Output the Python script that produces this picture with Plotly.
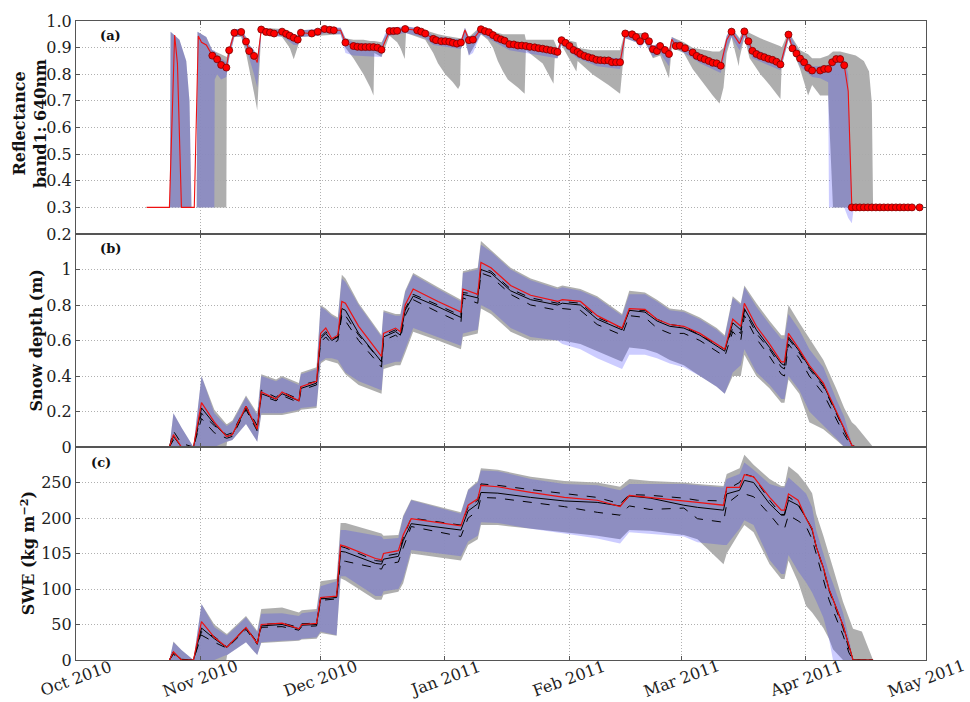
import pandas as pd
import plotly.graph_objects as go
from plotly.subplots import make_subplots

BASE = pd.Timestamp("2010-10-01")

# ---------------- Panel (a): reflectance ----------------
obs_day = [34.0, 35.2, 36.2, 37.5, 38.2, 39.5, 41.2, 42.4, 43.2, 44.4, 46.2, 47.4, 48.4, 49.4,
           51.4, 52.4, 53.3, 54.3, 55.3, 56.1, 58.8, 60.3, 62.0, 63.3, 64.3, 67.2, 69.2, 70.2,
           71.2, 72.2, 73.2, 74.2, 75.2, 76.2, 78.2, 79.2, 80.1, 82.1, 85.1, 86.1, 87.1, 89.1,
           89.8, 91.1, 92.1, 93.1, 94.0, 95.0, 96.0, 98.0, 99.0, 101.0, 102.0, 103.0, 104.0,
           105.0, 106.0, 106.9, 108.1, 109.2, 110.2, 111.2, 112.2, 113.2, 114.4, 115.4, 116.4,
           117.4, 118.4, 119.4, 120.1, 121.1, 122.1, 123.1, 124.1, 125.1, 125.8, 126.8, 127.8,
           128.8, 129.8, 130.8, 131.8, 132.8, 133.7, 134.7, 135.7, 137.0, 138.7, 139.7, 140.7,
           141.9, 142.9, 143.9, 144.9, 145.7, 146.9, 147.9, 149.6, 150.6, 151.9, 153.8, 154.8,
           155.8, 156.8, 157.8, 158.8, 159.8, 160.8, 163.5, 166.7, 167.7, 168.7, 169.7, 170.7,
           171.7, 172.7, 173.7, 174.7, 175.7, 177.7, 178.7, 179.7, 180.6, 181.6, 182.6, 183.6,
           185.6, 186.6, 187.6, 188.6, 189.6, 190.6, 191.6, 193.5, 194.5, 195.5, 196.5, 197.5,
           198.5, 199.5, 200.5, 201.5, 202.5, 203.5, 204.5, 205.5, 206.5, 207.5, 208.5, 210.4]
obs_refl = [0.87, 0.856, 0.835, 0.825, 0.89, 0.956, 0.959, 0.923, 0.887, 0.869, 0.968, 0.959,
            0.957, 0.953, 0.96, 0.952, 0.945, 0.937, 0.93, 0.956, 0.953, 0.96, 0.97, 0.967, 0.965,
            0.919, 0.906, 0.903, 0.902, 0.902, 0.902, 0.902, 0.90, 0.892, 0.962, 0.962, 0.963,
            0.97, 0.965, 0.96, 0.953, 0.933, 0.928, 0.924, 0.924, 0.922, 0.918, 0.915, 0.919,
            0.928, 0.93, 0.969, 0.962, 0.958, 0.947, 0.937, 0.931, 0.926, 0.913, 0.912, 0.908,
            0.908, 0.906, 0.903, 0.901, 0.898, 0.896, 0.893, 0.89, 0.887, 0.884, 0.928, 0.918,
            0.906, 0.891, 0.884, 0.876, 0.869, 0.864, 0.86, 0.854, 0.853, 0.852, 0.852, 0.845,
            0.845, 0.845, 0.953, 0.95, 0.94, 0.924, 0.943, 0.924, 0.894, 0.887, 0.906, 0.891,
            0.876, 0.906, 0.907, 0.898, 0.882, 0.869, 0.862, 0.856, 0.85, 0.843, 0.841, 0.832,
            0.96, 0.961, 0.924, 0.888, 0.876, 0.869, 0.864, 0.858, 0.854, 0.847, 0.837, 0.949,
            0.897, 0.878, 0.859, 0.845, 0.824, 0.814, 0.814, 0.82, 0.82, 0.845, 0.857, 0.857,
            0.834, 0.3, 0.3, 0.3, 0.3, 0.3, 0.3, 0.3, 0.3, 0.3, 0.3, 0.3, 0.3, 0.3, 0.3, 0.3,
            0.3, 0.3]
red_extra_day = [17.6, 23.3, 24.6, 25.3, 26.3, 29.5, 30.5, 31.3, 32.5, 45.2, 66.0, 97.0,
                 148.6, 162.3, 165.5, 192.6]
red_extra_refl = [0.3, 0.3, 0.947, 0.84, 0.3, 0.3, 0.944, 0.92, 0.91, 0.844, 0.965, 0.966,
                  0.931, 0.93, 0.915, 0.736]

a_blue_day = [23.4, 23.6, 25.8, 27.5, 28.3, 28.8, 30.1, 30.3, 32.5, 34.0, 34.5, 34.6, 35.2,
              36.2, 37.5, 38.2, 39.5, 41.2, 42.4, 43.2, 44.4, 45.2, 46.2, 49.4, 51.4, 54.3,
              55.3, 56.1, 60.3, 62.0, 66.0, 67.2, 69.2, 76.2, 77.0, 78.2, 82.1, 85.1, 87.1,
              89.1, 96.0, 97.0, 98.0, 99.0, 101.0, 104.0, 108.1, 120.1, 121.1, 125.1, 130.0,
              135.7, 137.0, 139.7, 140.7, 141.9, 143.9, 145.7, 147.9, 148.6, 150.6, 155.8,
              160.8, 162.3, 163.5, 165.5, 166.7, 168.7, 175.7, 177.7, 180.6, 183.6, 185.6,
              187.6, 187.8, 190.6, 191.6, 192.6, 193.5, 194.0]
a_blue_hi = [0.30, 0.96, 0.93, 0.85, 0.70, 0.30, 0.30, 0.96, 0.94, 0.89, 0.89, 0.885, 0.875,
             0.86, 0.845, 0.90, 0.97, 0.97, 0.94, 0.91, 0.89, 0.86, 0.975, 0.965, 0.97, 0.95,
             0.945, 0.965, 0.97, 0.98, 0.975, 0.935, 0.92, 0.91, 0.95, 0.975, 0.98, 0.975,
             0.965, 0.945, 0.93, 0.975, 0.94, 0.945, 0.98, 0.96, 0.925, 0.895, 0.94, 0.895,
             0.865, 0.86, 0.965, 0.955, 0.935, 0.955, 0.905, 0.92, 0.89, 0.94, 0.92, 0.875,
             0.845, 0.945, 0.975, 0.93, 0.975, 0.90, 0.85, 0.96, 0.875, 0.83, 0.83, 0.835,
             0.84, 0.875, 0.855, 0.80, 0.30, 0.30]
a_blue_lo = [0.30, 0.30, 0.30, 0.30, 0.30, 0.30, 0.30, 0.30, 0.30, 0.30, 0.30, 0.78, 0.80,
             0.78, 0.79, 0.86, 0.94, 0.945, 0.90, 0.86, 0.80, 0.75, 0.955, 0.94, 0.945, 0.91,
             0.91, 0.94, 0.945, 0.955, 0.95, 0.88, 0.87, 0.865, 0.93, 0.945, 0.955, 0.945,
             0.935, 0.91, 0.895, 0.93, 0.87, 0.88, 0.95, 0.925, 0.89, 0.86, 0.91, 0.86, 0.83,
             0.82, 0.935, 0.92, 0.90, 0.92, 0.865, 0.88, 0.83, 0.91, 0.89, 0.84, 0.805, 0.90,
             0.94, 0.89, 0.94, 0.86, 0.815, 0.93, 0.83, 0.79, 0.785, 0.77, 0.30, 0.30, 0.30,
             0.26, 0.24, 0.30]

a_grey_day = [23.4, 23.6, 25.8, 27.5, 28.3, 28.8, 30.1, 30.3, 32.5, 34.0, 36.2, 37.5, 37.6,
              38.2, 39.5, 41.2, 42.4, 43.2, 44.4, 45.2, 46.2, 51.4, 53.3, 54.3, 55.3, 56.1,
              66.0, 67.2, 69.2, 71.7, 73.4, 74.2, 74.4, 76.2, 78.2, 80.1, 80.9, 82.0, 82.3,
              87.1, 89.1, 90.3, 92.1, 94.0, 95.3, 95.8, 96.0, 97.0, 98.0, 101.0, 102.7, 104.0,
              105.2, 106.5, 107.7, 110.2, 111.9, 112.2, 116.4, 119.1, 119.4, 120.1, 121.1,
              122.1, 124.8, 125.1, 128.8, 132.8, 135.7, 137.0, 139.7, 141.9, 143.9, 145.7,
              147.9, 148.6, 151.6, 153.8, 156.8, 158.8, 160.5, 161.5, 162.3, 163.5, 165.3,
              165.5, 166.7, 168.0, 170.7, 173.0, 175.7, 176.0, 177.7, 180.6, 182.6, 183.6,
              185.6, 187.6, 188.8, 190.6, 194.5, 196.5, 197.8, 198.5, 198.8]
a_grey_hi = [0.30, 0.96, 0.93, 0.85, 0.70, 0.30, 0.30, 0.96, 0.94, 0.89, 0.875, 0.865, 0.865,
             0.90, 0.97, 0.97, 0.94, 0.91, 0.89, 0.86, 0.975, 0.97, 0.955, 0.95, 0.945, 0.965,
             0.975, 0.935, 0.93, 0.93, 0.925, 0.925, 0.925, 0.92, 0.975, 0.975, 0.975, 0.98,
             0.98, 0.965, 0.955, 0.95, 0.945, 0.94, 0.935, 0.935, 0.93, 0.975, 0.94, 0.98,
             0.965, 0.96, 0.955, 0.95, 0.95, 0.95, 0.95, 0.93, 0.93, 0.93, 0.92, 0.895, 0.94,
             0.93, 0.92, 0.90, 0.89, 0.89, 0.89, 0.965, 0.955, 0.955, 0.905, 0.92, 0.89, 0.94,
             0.92, 0.90, 0.89, 0.885, 0.885, 0.90, 0.945, 0.975, 0.94, 0.935, 0.975, 0.955,
             0.935, 0.92, 0.905, 0.90, 0.96, 0.89, 0.875, 0.86, 0.86, 0.87, 0.885, 0.885, 0.87,
             0.85, 0.81, 0.69, 0.30]
a_grey_lo = [0.30, 0.30, 0.30, 0.30, 0.30, 0.30, 0.30, 0.30, 0.30, 0.30, 0.30, 0.30, 0.80,
             0.86, 0.94, 0.94, 0.88, 0.82, 0.73, 0.665, 0.955, 0.94, 0.90, 0.856, 0.90, 0.94,
             0.95, 0.90, 0.86, 0.80, 0.75, 0.72, 0.88, 0.865, 0.945, 0.92, 0.90, 0.857, 0.955,
             0.93, 0.88, 0.84, 0.80, 0.77, 0.745, 0.76, 0.895, 0.93, 0.87, 0.95, 0.93, 0.90,
             0.85, 0.81, 0.78, 0.75, 0.727, 0.89, 0.84, 0.764, 0.86, 0.86, 0.91, 0.88, 0.81,
             0.85, 0.80, 0.76, 0.727, 0.935, 0.92, 0.92, 0.86, 0.87, 0.785, 0.90, 0.88, 0.82,
             0.76, 0.72, 0.69, 0.75, 0.88, 0.94, 0.83, 0.86, 0.94, 0.86, 0.80, 0.76, 0.707,
             0.83, 0.93, 0.82, 0.72, 0.76, 0.72, 0.72, 0.30, 0.30, 0.30, 0.30, 0.30, 0.30, 0.30]

# ---------------- Panel (b): snow depth (m) ----------------
b_day = [23.3, 24.3, 26.3, 29.3, 31.3, 34.5, 37.5, 37.7, 39.0, 42.4, 45.2, 46.2, 49.9, 51.4,
         55.6, 56.1, 60.0, 61.0, 62.3, 63.8, 65.3, 66.3, 67.2, 70.5, 76.2, 76.7, 79.7, 80.9,
         82.1, 84.1, 90.3, 96.0, 96.5, 100.2, 101.0, 103.5, 108.4, 113.4, 120.1, 121.3, 125.8,
         130.0, 136.2, 138.0, 141.9, 144.9, 148.1, 151.6, 155.6, 159.8, 161.8, 163.8, 165.8,
         166.7, 169.7, 173.0, 175.9, 176.7, 177.7, 180.4, 182.9, 186.4, 189.6, 191.6, 193.5,
         194.5, 198.8]
b_red = [0, 0.07, 0, 0, 0.25, 0.14, 0.06, 0.06, 0.07, 0.23, 0.10, 0.31, 0.27, 0.31, 0.26, 0.34,
         0.37, 0.64, 0.67, 0.61, 0.63, 0.82, 0.81, 0.68, 0.51, 0.64, 0.67, 0.65, 0.80, 0.89, 0.82,
         0.76, 0.89, 0.86, 1.04, 1.01, 0.91, 0.855, 0.82, 0.83, 0.82, 0.74, 0.67, 0.78, 0.775,
         0.72, 0.69, 0.68, 0.64, 0.58, 0.55, 0.72, 0.68, 0.81, 0.68, 0.58, 0.48, 0.48, 0.64,
         0.55, 0.46, 0.36, 0.20, 0.10, 0.01, 0, 0]
b_black = [0, 0.06, 0, 0, 0.22, 0.13, 0.06, 0.06, 0.07, 0.22, 0.10, 0.30, 0.27, 0.30, 0.26,
           0.33, 0.36, 0.61, 0.64, 0.60, 0.62, 0.78, 0.77, 0.64, 0.48, 0.62, 0.65, 0.63, 0.77,
           0.85, 0.79, 0.73, 0.86, 0.84, 1.00, 0.98, 0.88, 0.83, 0.80, 0.81, 0.80, 0.72, 0.66,
           0.77, 0.76, 0.71, 0.68, 0.67, 0.63, 0.57, 0.54, 0.70, 0.66, 0.78, 0.66, 0.56, 0.47,
           0.46, 0.62, 0.54, 0.45, 0.35, 0.20, 0.10, 0.01, 0, 0]
b_dash_hi = [0, 0.09, 0.02, 0, 0.19, 0.12, 0.07, 0.07, 0.08, 0.23, 0.12, 0.32, 0.28, 0.31, 0.27,
             0.35, 0.37, 0.62, 0.65, 0.61, 0.62, 0.76, 0.74, 0.63, 0.48, 0.63, 0.66, 0.64, 0.78,
             0.86, 0.80, 0.74, 0.87, 0.86, 1.01, 0.99, 0.89, 0.84, 0.81, 0.82, 0.81, 0.73, 0.67,
             0.77, 0.77, 0.72, 0.69, 0.68, 0.63, 0.58, 0.55, 0.67, 0.64, 0.77, 0.64, 0.55, 0.45,
             0.44, 0.61, 0.53, 0.44, 0.34, 0.19, 0.09, 0, 0, 0]
b_dash_lo = [0, 0.04, 0, 0, 0.16, 0.08, 0.05, 0.05, 0.06, 0.21, 0.09, 0.29, 0.26, 0.29, 0.25,
             0.32, 0.35, 0.59, 0.62, 0.58, 0.60, 0.74, 0.71, 0.60, 0.45, 0.60, 0.63, 0.61, 0.74,
             0.83, 0.76, 0.70, 0.84, 0.81, 0.98, 0.96, 0.86, 0.80, 0.77, 0.78, 0.77, 0.69, 0.63,
             0.74, 0.73, 0.67, 0.64, 0.64, 0.60, 0.54, 0.51, 0.65, 0.60, 0.74, 0.61, 0.51, 0.41,
             0.40, 0.58, 0.50, 0.40, 0.30, 0.16, 0.07, 0, 0, 0]
b_blue_hi = [0, 0.19, 0.11, 0, 0.40, 0.19, 0.12, 0.12, 0.14, 0.28, 0.18, 0.40, 0.37, 0.39, 0.35,
             0.41, 0.44, 0.79, 0.77, 0.74, 0.72, 0.95, 0.93, 0.80, 0.62, 0.76, 0.74, 0.74, 0.87,
             0.97, 0.89, 0.82, 0.98, 1.00, 1.14, 1.10, 1.00, 0.94, 0.89, 0.90, 0.88, 0.84, 0.74,
             0.86, 0.86, 0.82, 0.77, 0.76, 0.72, 0.66, 0.62, 0.84, 0.80, 0.90, 0.79, 0.69, 0.61,
             0.61, 0.75, 0.66, 0.55, 0.45, 0.27, 0.17, 0.02, 0, 0]
b_blue_lo = [0, 0, 0, 0, 0, 0, 0.03, 0.03, 0.04, 0.13, 0.03, 0.19, 0.19, 0.19, 0.21, 0.22, 0.23,
             0.48, 0.50, 0.50, 0.49, 0.45, 0.42, 0.37, 0.32, 0.46, 0.48, 0.48, 0.55, 0.67, 0.62,
             0.57, 0.64, 0.66, 0.80, 0.77, 0.67, 0.62, 0.60, 0.58, 0.55, 0.50, 0.44, 0.52, 0.52,
             0.50, 0.47, 0.45, 0.40, 0.34, 0.30, 0.42, 0.46, 0.55, 0.42, 0.35, 0.27, 0.27, 0.40,
             0.32, 0.20, 0.12, 0.05, 0, 0, 0, 0]
b_grey_hi = [0, 0.19, 0.11, 0, 0.40, 0.21, 0.13, 0.13, 0.15, 0.29, 0.19, 0.41, 0.38, 0.40, 0.36,
             0.42, 0.45, 0.80, 0.78, 0.75, 0.73, 0.97, 0.95, 0.81, 0.63, 0.77, 0.75, 0.75, 0.88,
             0.98, 0.90, 0.83, 0.99, 1.01, 1.16, 1.11, 1.01, 0.95, 0.90, 0.91, 0.89, 0.85, 0.75,
             0.88, 0.87, 0.83, 0.78, 0.77, 0.73, 0.67, 0.63, 0.85, 0.81, 0.91, 0.81, 0.71, 0.63,
             0.63, 0.80, 0.70, 0.61, 0.49, 0.33, 0.22, 0.14, 0.12, 0]
b_grey_lo = [0, 0, 0, 0, 0, 0, 0, 0.03, 0.04, 0.13, 0.03, 0.18, 0.18, 0.18, 0.20, 0.21, 0.22,
             0.47, 0.49, 0.48, 0.47, 0.44, 0.41, 0.35, 0.30, 0.44, 0.46, 0.46, 0.53, 0.65, 0.60,
             0.55, 0.62, 0.64, 0.78, 0.75, 0.65, 0.60, 0.60, 0.60, 0.58, 0.54, 0.48, 0.56, 0.55,
             0.53, 0.49, 0.46, 0.40, 0.34, 0.30, 0.40, 0.40, 0.52, 0.40, 0.33, 0.25, 0.25, 0.38,
             0.30, 0.14, 0.10, 0.04, 0, 0, 0, 0]

# ---------------- Panel (c): SWE (kg m-2) ----------------
c_day = [23.3, 24.3, 26.3, 29.3, 31.3, 34.5, 37.5, 37.7, 42.4, 45.2, 46.2, 51.4, 55.6, 56.3,
         60.0, 61.0, 65.0, 66.0, 67.2, 74.7, 76.2, 76.7, 80.4, 81.6, 83.6, 96.0, 97.8, 100.2,
         101.0, 105.2, 113.4, 121.8, 130.0, 135.7, 138.0, 143.2, 151.6, 155.0, 161.5, 162.3,
         165.5, 166.7, 169.0, 173.0, 175.9, 176.7, 177.7, 180.1, 182.1, 183.6, 184.6, 186.4,
         187.8, 188.8, 191.3, 192.8, 193.8, 196.0, 198.8]
c_red = [0, 11.5, 0, 0, 54, 32, 18.5, 18.5, 46, 23, 50, 52, 44, 50, 51.5, 88, 90, 162, 160, 143,
         141, 150, 154, 176, 199, 189, 218, 227, 246, 244, 236, 229, 225, 216, 232, 229, 225, 222,
         218, 243, 243, 261, 258, 229, 211, 211, 234, 225, 199, 185, 160, 130, 100, 85, 49, 20,
         0, 0, 0]
c_black = [0, 10, 0, 0, 45, 30, 18, 18, 45, 24, 48, 50, 44, 49, 50, 86, 88, 153, 152, 136, 135,
           142, 146, 168, 192, 183, 210, 220, 236, 235, 229, 224, 222, 217, 231, 228, 218, 215,
           211, 234, 239, 253, 250, 220, 204, 204, 225, 218, 200, 183, 160, 130, 100, 85, 49, 20,
           0, 0, 0]
c_dash_hi = [0, 12, 1, 0, 40, 33, 19, 19, 46, 25, 50, 52, 46, 51, 52, 87, 89, 160, 158, 140,
             139, 146, 150, 172, 200, 190, 215, 225, 248, 246, 240, 234, 229, 220, 233, 232, 228,
             225, 224, 240, 250, 262, 258, 225, 205, 205, 230, 220, 200, 185, 160, 128, 98, 82,
             45, 15, 0, 0, 0]
c_dash_lo = [0, 8, 0, 0, 35, 25, 17, 17, 43, 22, 46, 47, 42, 47, 48, 84, 86, 140, 139, 129, 128,
             134, 138, 158, 188, 174, 200, 210, 229, 228, 222, 216, 208, 204, 217, 212, 214, 199,
             194, 220, 234, 234, 230, 205, 185, 185, 204, 196, 188, 170, 150, 115, 85, 70, 35, 10,
             0, 0, 0]
c_blue_hi = [0, 25, 14, 0, 79, 46, 35, 35, 60, 39, 65, 66, 62, 66, 68.5, 104, 111, 183, 183, 176,
             174, 170, 172, 201, 225, 206, 239, 250, 267, 266, 255, 248, 246, 239, 248, 248, 248,
             246, 243, 255, 262, 278, 268, 248, 243, 243, 257, 245, 234, 215, 183, 150, 123, 108,
             67, 30, 0, 0, 0]
c_blue_lo = [0, 0, 0, 0, 0, 0, 7, 7, 25, 7, 25, 27, 28, 30, 32, 40, 35, 118, 118, 90, 90, 97,
             100, 114, 155, 146, 167, 175, 194, 193, 185, 178, 171, 164, 180, 178, 174, 166, 162,
             162, 185, 197, 190, 141, 121, 121, 148, 125, 109, 95, 83, 60, 30, 0, 0, 0, 0, 0, 0]
c_grey_hi = [0, 26, 14, 0, 79, 50, 37, 37, 62, 41, 72, 74, 67, 70, 72, 111, 114, 193, 193, 180,
             178, 175, 176, 203, 226, 208, 240, 252, 270, 268, 258, 252, 250, 244, 255, 252, 250,
             248, 245, 262, 270, 289, 275, 255, 245, 245, 273, 262, 248, 235, 206, 175, 147, 130,
             82, 60, 44, 40, 0]
c_grey_lo = [0, 0, 0, 0, 0, 0, 0, 7, 25, 7, 24, 26, 27, 29, 30, 38, 34, 115, 112, 85, 85, 92, 96,
             108, 150, 140, 162, 170, 190, 190, 185, 180, 175, 170, 183, 182, 176, 170, 135, 150,
             180, 190, 180, 135, 114, 114, 140, 110, 76, 67, 60, 45, 30, 15, 0, 0, 0, 0, 0]

month_dates = ["2010-10-01", "2010-11-01", "2010-12-01", "2011-01-01", "2011-02-01",
               "2011-03-01", "2011-04-01", "2011-05-01"]
month_labels = ["Oct 2010", "Nov 2010", "Dec 2010", "Jan 2011", "Feb 2011", "Mar 2011",
                "Apr 2011", "May 2011"]

a_ticks = [0.2, 0.3, 0.4, 0.5, 0.6, 0.7, 0.8, 0.9, 1.0]
a_ticktext = ["0.2", "0.3", "0.4", "0.5", "0.6", "0.7", "0.8", "0.9", "1.0"]
b_ticks = [0, 0.2, 0.4, 0.6, 0.8, 1.0]
b_ticktext = ["0", "0.2", "0.4", "0.6", "0.8", "1"]
c_ticks = [0, 50, 100, 150, 200, 250]
c_ticktext = ["0", "50", "100", "105", "200", "250"]

for arr in [b_red, b_black, b_dash_hi, b_dash_lo, b_blue_hi, b_blue_lo, b_grey_hi, b_grey_lo]:
    assert len(arr) == len(b_day), len(arr)
for arr in [c_red, c_black, c_dash_hi, c_dash_lo, c_blue_hi, c_blue_lo, c_grey_hi, c_grey_lo]:
    assert len(arr) == len(c_day), len(arr)
assert len(obs_day) == len(obs_refl), (len(obs_day), len(obs_refl))
assert len(a_blue_day) == len(a_blue_hi) == len(a_blue_lo)
assert len(a_grey_day) == len(a_grey_hi) == len(a_grey_lo)


def to_dates(days):
    return list(BASE + pd.to_timedelta(days, unit="D"))


def band(days, hi, lo, color, row):
    d = to_dates(days)
    fig.add_trace(go.Scatter(x=d + d[::-1], y=list(hi) + list(lo)[::-1], fill="toself",
                             fillcolor=color, line=dict(width=0), mode="lines",
                             hoverinfo="skip", showlegend=False), row=row, col=1)


GREY = "rgba(170,170,170,0.95)"
BLUE = "rgba(40,40,255,0.24)"
FONT = "DejaVu Serif"

fig = make_subplots(rows=3, cols=1, shared_xaxes=True, vertical_spacing=0)

# panel a
band(a_grey_day, a_grey_hi, a_grey_lo, GREY, 1)
band(a_blue_day, a_blue_hi, a_blue_lo, BLUE, 1)
red_pairs = sorted(zip(red_extra_day + obs_day, red_extra_refl + obs_refl))
fig.add_trace(go.Scatter(x=to_dates([p[0] for p in red_pairs]), y=[p[1] for p in red_pairs],
                         mode="lines", line=dict(color="#ee1111", width=1.1),
                         showlegend=False), row=1, col=1)
fig.add_trace(go.Scatter(x=to_dates(obs_day), y=obs_refl, mode="markers",
                         marker=dict(color="#ff0000", size=7,
                                     line=dict(color="#7a0000", width=0.8)),
                         showlegend=False), row=1, col=1)

# panels b, c
for row, (days, red, black, dhi, dlo, bhi, blo, ghi, glo) in [
        (2, (b_day, b_red, b_black, b_dash_hi, b_dash_lo, b_blue_hi, b_blue_lo, b_grey_hi, b_grey_lo)),
        (3, (c_day, c_red, c_black, c_dash_hi, c_dash_lo, c_blue_hi, c_blue_lo, c_grey_hi, c_grey_lo))]:
    band(days, ghi, glo, GREY, row)
    band(days, bhi, blo, BLUE, row)
    d = to_dates(days)
    for ser in (dhi, dlo):
        fig.add_trace(go.Scatter(x=d, y=ser, mode="lines",
                                 line=dict(color="black", width=1, dash="dash"),
                                 showlegend=False), row=row, col=1)
    fig.add_trace(go.Scatter(x=d, y=black, mode="lines", line=dict(color="black", width=1),
                             showlegend=False), row=row, col=1)
    fig.add_trace(go.Scatter(x=d, y=red, mode="lines", line=dict(color="#ee1111", width=1.2),
                             showlegend=False), row=row, col=1)

axis_common = dict(showline=True, mirror="ticks", linecolor="#555555", linewidth=1.2,
                   ticks="inside", ticklen=4, tickcolor="#555555", showgrid=True,
                   gridcolor="#b0b0b0", griddash="1px,2px", gridwidth=1, zeroline=False,
                   tickfont=dict(family=FONT, size=16, color="#222222"))

for r in (1, 2, 3):
    fig.update_xaxes(range=["2010-10-01", "2011-05-01"], tickvals=month_dates,
                     showticklabels=False, row=r, col=1, **axis_common)

fig.update_yaxes(range=[0.2, 1.0], tickvals=a_ticks, ticktext=a_ticktext, row=1, col=1,
                 **axis_common)
fig.update_yaxes(range=[0, 1.2], tickvals=b_ticks + [1.2], ticktext=b_ticktext + [""],
                 row=2, col=1, **axis_common)
fig.update_yaxes(range=[0, 300], tickvals=c_ticks + [300], ticktext=c_ticktext + [""],
                 row=3, col=1, **axis_common)

ann = []
for dt, lab in zip(month_dates, month_labels):
    ann.append(dict(x=dt, y=-0.029, xref="x3", yref="paper", text=lab, showarrow=False,
                    textangle=-20, xanchor="center", yanchor="middle",
                    font=dict(family=FONT, size=16, color="#222222")))
ytitles = [("<b>Reflectance<br>band1: 640nm</b>", -0.0541, 0.839),
           ("<b>Snow depth (m)</b>", -0.0459, 0.5),
           ("<b>SWE (kg m<sup>−2</sup>)</b>", -0.0565, 0.167)]
for txt, x, y in ytitles:
    ann.append(dict(x=x, y=y, xref="paper", yref="paper", text=txt, showarrow=False,
                    textangle=-90, xanchor="center", yanchor="middle",
                    font=dict(family=FONT, size=16, color="#111111")))
for txt, x, y in [("<b>(a)</b>", 0.04, 0.978), ("<b>(b)</b>", 0.04, 0.644),
                  ("<b>(c)</b>", 0.0294, 0.3096)]:
    ann.append(dict(x=x, y=y, xref="paper", yref="paper", text=txt, showarrow=False,
                    xanchor="center", yanchor="middle",
                    font=dict(family=FONT, size=13, color="#111111")))

fig.update_layout(width=970, height=702, margin=dict(l=76, r=44, t=14, b=42),
                  paper_bgcolor="white", plot_bgcolor="white", annotations=ann,
                  showlegend=False, font=dict(family=FONT))

fig.write_html("out.html", config={"displayModeBar": False},
               post_script="document.body.style.margin='0px';"
                           "document.body.style.overflow='hidden';")
